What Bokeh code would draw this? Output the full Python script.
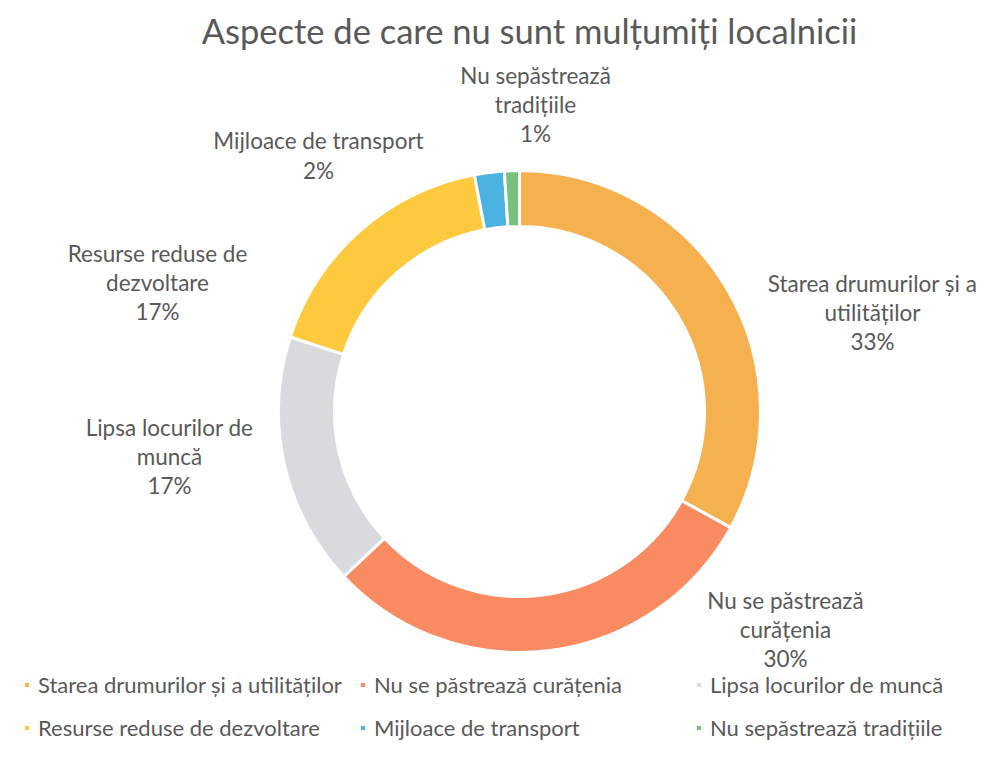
import math
from bokeh.plotting import figure
from bokeh.models import Range1d, Legend, LegendItem, Label, ColumnDataSource
from bokeh.core.properties import value
from bokeh.embed import file_html
from bokeh.resources import INLINE

# ---- data ----
categories = [
    "Starea drumurilor și a utilităților",
    "Nu se păstrează curățenia",
    "Lipsa locurilor de muncă",
    "Resurse reduse de dezvoltare",
    "Mijloace de transport",
    "Nu sepăstrează tradițiile",
]
percent = [33, 30, 17, 17, 2, 1]
label_names = [
    "Starea drumurilor și a\nutilităților",
    "Nu se păstrează\ncurățenia",
    "Lipsa locurilor de\nmuncă",
    "Resurse reduse de\ndezvoltare",
    "Mijloace de transport",
    "Nu sepăstrează\ntradițiile",
]
title_text = "Aspecte de care nu sunt mulțumiți localnicii"

# ---- style / layout ----
colors = ["#F5B14F", "#F98B63", "#D9DADE", "#FDC93E", "#4AB3E1", "#76C17D"]
W, H = 983, 741
label_pos = [(872, 312), (785, 629), (169, 456), (157, 282), (318, 155), (535, 104)]  # px from top-left
centre = (519, 411)  # px from top-left
r_in, r_out = 185, 241
FONT = "Lato"
GREY = "#595959"


def sx(x):
    return x


def sy(y):
    return H - y


total = sum(percent)
starts, ends = [], []
cum = 0.0
for v in percent:
    starts.append(math.pi / 2 - 2 * math.pi * cum / total)
    cum += v
    ends.append(math.pi / 2 - 2 * math.pi * cum / total)

src = ColumnDataSource(dict(
    x=[sx(centre[0])] * len(percent),
    y=[sy(centre[1])] * len(percent),
    start=starts, end=ends, color=colors, cat=categories,
))

p = figure(width=W, height=H, x_range=Range1d(0, W), y_range=Range1d(0, H),
           output_backend="svg", toolbar_location=None,
           x_axis_location=None, y_axis_location=None, min_border=0)
p.grid.visible = False
p.outline_line_color = None
p.background_fill_color = "white"

r = p.annular_wedge(x="x", y="y", inner_radius=r_in, outer_radius=r_out,
                    start_angle="start", end_angle="end", direction="clock",
                    fill_color="color", line_color="white", line_width=3,
                    source=src)

lsrc = ColumnDataSource(dict(
    x=[sx(a) for a, b in label_pos],
    y=[sy(b) for a, b in label_pos],
    t=[f"{n}\n{v}%" for n, v in zip(label_names, percent)],
))
p.text(x="x", y="y", text="t", source=lsrc, text_align="center",
       text_baseline="middle", text_font=value(FONT), text_font_size="22.5px",
       text_color=GREY, text_line_height=1.08)

p.add_layout(Label(x=sx(529), y=sy(30), text=title_text, text_align="center",
                   text_baseline="middle", text_font=FONT, text_font_size="34.5px",
                   text_color=GREY))

items = [LegendItem(label=c, renderers=[r], index=i) for i, c in enumerate(categories)]
legend = Legend(items=items, ncols=3, orientation="horizontal", location=(22, 0),
                border_line_color=None, background_fill_alpha=0, padding=0, margin=0,
                glyph_width=9, glyph_height=9, label_standoff=7, label_width=304,
                label_height=24, spacing=16,
                label_text_font=FONT, label_text_font_size="22px",
                label_text_color=GREY)
p.add_layout(legend)

open("out.html", "w").write(file_html(p, INLINE))
